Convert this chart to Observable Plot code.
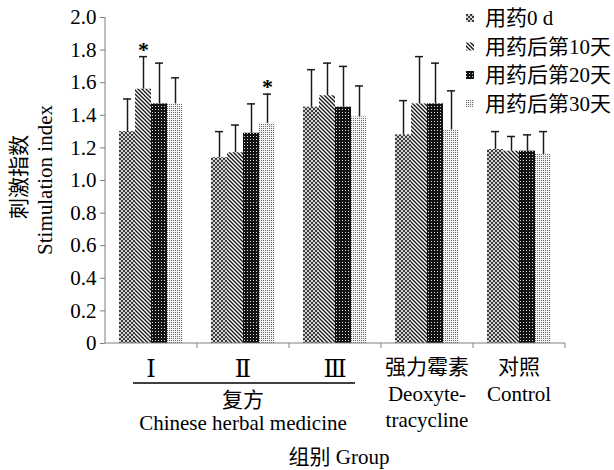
<!DOCTYPE html>
<html><head><meta charset="utf-8">
<script src="https://cdn.jsdelivr.net/npm/d3@7"></script>
<script src="https://cdn.jsdelivr.net/npm/@observablehq/plot@0.6"></script>
<style>body{margin:0;background:#fff}</style>
</head><body><div id="chart"></div>
<script>
const groups = ["Ⅰ", "Ⅱ", "Ⅲ", "强力霉素", "对照"];
const periods = ["用药0 d", "用药后第10天", "用药后第20天", "用药后第30天"];
const means = [
  [1.30, 1.56, 1.47, 1.47],
  [1.14, 1.17, 1.29, 1.35],
  [1.45, 1.52, 1.45, 1.39],
  [1.28, 1.47, 1.47, 1.31],
  [1.19, 1.18, 1.18, 1.16]
];
const errTops = [
  [1.50, 1.76, 1.72, 1.63],
  [1.30, 1.34, 1.47, 1.53],
  [1.68, 1.72, 1.70, 1.58],
  [1.49, 1.76, 1.72, 1.55],
  [1.30, 1.27, 1.28, 1.30]
];
const stars = [["Ⅰ", "用药后第10天"], ["Ⅱ", "用药后第30天"]];
const yTicks = [0, 0.2, 0.4, 0.6, 0.8, 1.0, 1.2, 1.4, 1.6, 1.8, 2.0];
const subLabels = [
  {group: "强力霉素", text: "Deoxyte-\ntracycline"},
  {group: "对照", text: "Control"}
];
const herbalLabel = [{group: "Ⅱ", text: "复方\nChinese herbal medicine"}];
const bracketGroups = ["Ⅰ", "Ⅲ"];
const yTitle = ["刺激指数", "Stimulation index"];
const xTitle = "组别 Group";

const FONT = '"Liberation Serif", "DejaVu Serif", "Noto Sans CJK SC", serif';
const FS = 21;
const W = 614, H = 470, ML = 105, MR = 49, MT = 17, MB = 127;

const rows = [];
groups.forEach((g, i) => periods.forEach((p, j) =>
  rows.push({group: g, period: p, mean: means[i][j], top: errTops[i][j]})));
const starRows = rows.filter(r => stars.some(([g, p]) => g === r.group && p === r.period));
const fmt = d => d === 0 ? "0" : d.toFixed(1);
const roman = new Set(["Ⅰ", "Ⅱ", "Ⅲ"]);

const plot = Plot.plot({
  width: W, height: H,
  marginTop: MT, marginRight: MR, marginBottom: MB, marginLeft: ML,
  style: {fontFamily: FONT, fontSize: FS + "px", background: "#fff", color: "#000", overflow: "visible"},
  fx: {domain: groups, paddingInner: 0.29, paddingOuter: 0.145, label: null},
  x: {domain: periods, padding: 0, axis: null},
  y: {domain: [0, 2], axis: null},
  marks: [
    ...periods.map((p, j) => Plot.barY(rows.filter(r => r.period === p),
      {fx: "group", x: "period", y: "mean", fill: `url(#pat${j})`})),
    Plot.ruleX(rows, {fx: "group", x: "period", y1: "mean", y2: "top", stroke: "#1a1a1a", strokeWidth: 1.5}),
    Plot.tickY(rows, {fx: "group", x: "period", y: "top", stroke: "#1a1a1a", strokeWidth: 1.5, insetLeft: 4, insetRight: 4}),
    Plot.text(starRows, {fx: "group", x: "period", y: "top", text: () => "*", lineAnchor: "bottom", dy: 0, fontSize: 22, fontWeight: "bold"}),
    Plot.axisY({ticks: yTicks, tickFormat: fmt, tickSize: 5, tickPadding: 4, dx: -13, label: null, stroke: "#808080", fill: "#000", fontSize: FS}),
    Plot.axisFx({anchor: "bottom", tickSize: 0, tickPadding: 16, label: null, fontSize: FS}),
    Plot.text(subLabels, {fx: "group", text: "text", frameAnchor: "bottom", lineAnchor: "top", dy: 40, lineHeight: 1.2, fontSize: FS}),
    Plot.text(herbalLabel, {fx: "group", text: "text", frameAnchor: "bottom", lineAnchor: "top", dy: 47, lineHeight: 1.1, fontSize: FS})
  ]
});

const svg = d3.select(plot);
// enlarge the roman numeral tick labels
svg.selectAll("text").filter(function() { return roman.has(this.textContent); })
  .attr("font-size", 24).attr("dy", null).style("font-size", "24px");
const defs = svg.insert("defs", ":first-child");
let p = defs.append("pattern").attr("id", "pat0").attr("patternUnits", "userSpaceOnUse").attr("width", 4).attr("height", 4);
p.append("rect").attr("width", 4).attr("height", 4).attr("fill", "#d4d4d4");
p.append("rect").attr("width", 2).attr("height", 2).attr("fill", "#3c3c3c");
p.append("rect").attr("x", 2).attr("y", 2).attr("width", 2).attr("height", 2).attr("fill", "#3c3c3c");
p = defs.append("pattern").attr("id", "pat1").attr("patternUnits", "userSpaceOnUse").attr("width", 4).attr("height", 4);
p.append("rect").attr("width", 4).attr("height", 4).attr("fill", "#fff");
p.append("path").attr("d", "M-1,-1L5,5M-1,3L1,5M3,-1L5,1").attr("stroke", "#111").attr("stroke-width", 1.3);
p = defs.append("pattern").attr("id", "pat2").attr("patternUnits", "userSpaceOnUse").attr("width", 3).attr("height", 3);
p.append("rect").attr("width", 3).attr("height", 3).attr("fill", "#111");
p.append("rect").attr("x", 1).attr("y", 1).attr("width", 1).attr("height", 1).attr("fill", "#ddd");
p = defs.append("pattern").attr("id", "pat3").attr("patternUnits", "userSpaceOnUse").attr("width", 2).attr("height", 2);
p.append("rect").attr("width", 2).attr("height", 2).attr("fill", "#f4f4f4");
p.append("rect").attr("width", 1).attr("height", 1).attr("fill", "#6a6a6a");

const fx = plot.scale("fx"), y = plot.scale("y");
const y0 = y.apply(0), yTop = y.apply(2);
const left = ML, right = W - MR;
const g = svg.append("g").attr("font-family", FONT).attr("font-size", FS).attr("fill", "#000");
g.append("line").attr("x1", left).attr("x2", left).attr("y1", yTop).attr("y2", y0).attr("stroke", "#808080");
g.append("line").attr("x1", left).attr("x2", right).attr("y1", y0).attr("y2", y0).attr("stroke", "#808080");
const step = (right - left) / groups.length;
groups.forEach((gr, i) => {
  const xb = left + step * (i + 1);
  g.append("line").attr("x1", xb).attr("x2", xb).attr("y1", y0).attr("y2", y0 + 5).attr("stroke", "#808080");
});
const bx1 = fx.apply(bracketGroups[0]) + 15;
const bx2 = fx.apply(bracketGroups[1]) + fx.bandwidth - 12;
g.append("line").attr("x1", bx1).attr("x2", bx2).attr("y1", y0 + 40).attr("y2", y0 + 40).attr("stroke", "#000").attr("stroke-width", 1.5);
const yc = (y0 + yTop) / 2;
g.append("text").attr("transform", `translate(19,${yc - 3}) rotate(-90)`).attr("text-anchor", "middle").attr("dy", "0.35em").text(yTitle[0]);
g.append("text").attr("transform", `translate(45,${yc}) rotate(-90)`).attr("text-anchor", "middle").attr("dy", "0.35em").text(yTitle[1]);
g.append("text").attr("x", (left + right) / 2 + 4).attr("y", y0 + 114).attr("text-anchor", "middle").attr("dy", "0.35em").text(xTitle);
const lg = g.append("g");
periods.forEach((per, j) => {
  const ly = 18 + j * 28.5;
  lg.append("rect").attr("x", 466).attr("y", ly - 4).attr("width", 8).attr("height", 8).attr("fill", `url(#pat${j})`);
  lg.append("text").attr("x", 485).attr("y", ly).attr("dy", "0.35em").attr("text-anchor", "start").text(per);
});

document.getElementById("chart").appendChild(plot);
</script>
</body></html>
